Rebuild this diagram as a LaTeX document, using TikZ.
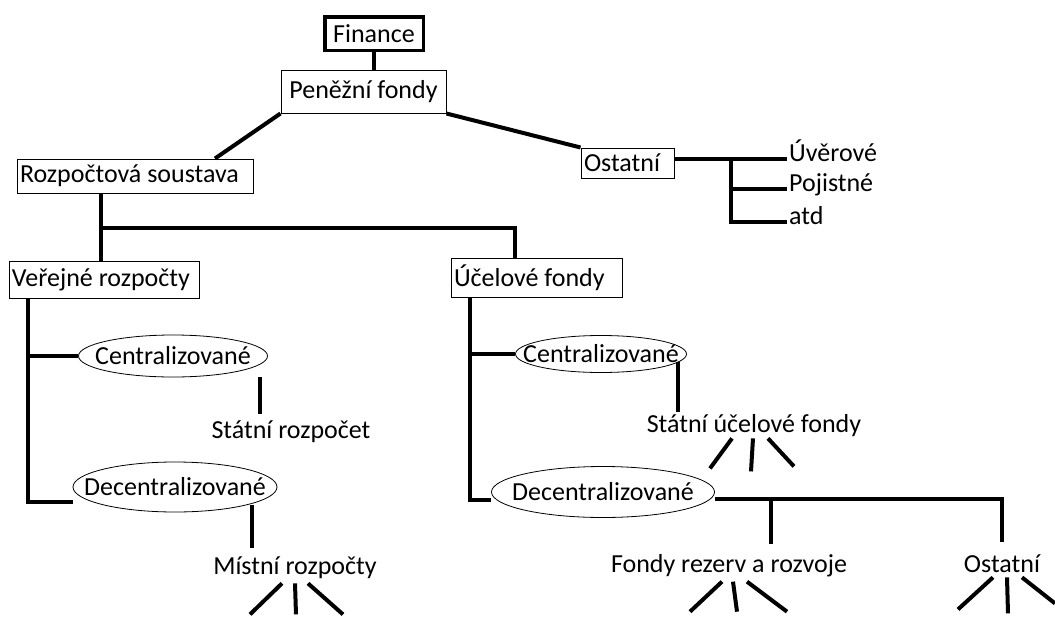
\documentclass[tikz,border=0pt]{standalone}
\usepackage{fontspec}
\setmainfont{Carlito}
\usetikzlibrary{shapes.geometric}

\begin{document}
\begin{tikzpicture}[x=1pt, y=-1pt,
        font=\fontsize{26}{30}\selectfont,
        conn/.style={line width=4pt},
        box/.style={draw, line width=1pt, inner xsep=3pt, inner ysep=0pt, align=flush left},
        oval/.style={draw, ellipse, line width=0.8pt, inner sep=0pt},
        leaf/.style={inner sep=2pt}]
        % Fix the frame
        \useasboundingbox (0,0) rectangle (1055,616);

        % Top of the tree
        \node[draw, line width=3.5pt, minimum width=98.5pt, minimum height=33.5pt, inner sep=0pt] (fin) at (374,33.5) {Finance};
        \node[draw, line width=1pt, minimum width=165pt, minimum height=43pt, inner sep=0pt] (pen) at (363.5,91.5) {Peněžní fondy};
        \node[box, text width=230pt, minimum height=34pt] (roz) at (135,176) {Rozpočtová soustava};
        \node[box, text width=87pt, minimum height=30pt] (ost) at (627.5,163) {Ostatní};

        % The list next to Ostatní
        \node[leaf, anchor=base west] (uver) at (787,161) {Úvěrové};
        \node[leaf, anchor=base west] (poj) at (787,191) {Pojistné};
        \node[leaf, anchor=base west] (atd) at (787,224) {atd};

        % Second level
        \node[box, text width=184pt, minimum height=37pt] (ver) at (104,279.5) {Veřejné rozpočty};
        \node[box, text width=165pt, minimum height=39pt] (uce) at (536.5,277.5) {Účelové fondy};

        % Ovals under Veřejné rozpočty
        \node[oval, minimum width=189pt, minimum height=42pt] (c1) at (173,356) {\makebox[0pt]{Centralizované}};
        \node[oval, minimum width=204pt, minimum height=50pt] (d1) at (175,487) {\makebox[0pt]{Decentralizované}};
        \node[leaf, anchor=base] (sr) at (291,438) {Státní rozpočet};
        \node[leaf, anchor=base] (mr) at (295,574) {Místní rozpočty};

        % Ovals under Účelové fondy
        \node[oval, minimum width=171pt, minimum height=37pt] (c2) at (601,354) {\makebox[0pt]{Centralizované}};
        \node[oval, minimum width=223pt, minimum height=51pt] (d2) at (603,492) {\makebox[0pt]{Decentralizované}};
        \node[leaf, anchor=base] (su) at (754,432) {Státní účelové fondy};
        \node[leaf, anchor=base] (fr) at (729,572) {Fondy rezerv a rozvoje};
        \node[leaf, anchor=base] (os2) at (1002,572) {Ostatní};

        % Finance and Peněžní fondy
        \draw[conn] (fin.south) -- (fin.south |- pen.north);
        \draw[conn] (pen.south west) -- ([xshift=80pt]roz.north);
        \draw[conn] (pen.south east) -- (ost.north west);

        % Ostatní and its list
        \coordinate (ostJ) at (731,153);
        \draw[conn] (ost.east |- uver.mid west) -- (uver.mid west);
        \draw[conn] (ostJ |- uver.mid west) -- (ostJ |- atd.mid west) -- (atd.mid west);
        \draw[conn] (ostJ |- poj.mid west) -- (poj.mid west);

        % Rozpočtová soustava splits
        \coordinate (rozJ) at (101,228);
        \coordinate (uceJ) at (515,228);
        \draw[conn] (roz.south -| rozJ) -- (ver.north -| rozJ);
        \draw[conn] (rozJ) -- (uceJ) -- (uce.north -| uceJ);

        % Veřejné rozpočty
        \coordinate (verB) at (28,502);
        \draw[conn] (ver.south -| verB) -- (verB) -- (verB -| d1.west);
        \draw[conn] (verB |- c1.west) -- (c1.west);
        \coordinate (srT) at (260,377);
        \draw[conn, shorten >=4pt] (srT) -- (srT |- sr.north);
        \coordinate (mrT) at (252,505);
        \draw[conn, shorten >=6pt] (mrT) -- (mrT |- mr.north);

        % Účelové fondy
        \coordinate (uceB) at (470,500);
        \draw[conn] (uce.south -| uceB) -- (uceB) -- (uceB -| d2.west);
        \draw[conn] (uceB |- c2.west) -- (c2.west);
        \coordinate (suT) at (678,362);
        \draw[conn] (suT) -- (suT |- su.north);
        \coordinate (frJ) at (771,499);
        \coordinate (osJ) at (1002,499);
        \draw[conn, shorten >=10pt] (d2.east |- frJ) -- (osJ) -- (osJ |- os2.north);
        \draw[conn, shorten >=8pt] (frJ) -- (frJ |- fr.north);

        % Three legs under the leaves
        \foreach \dx/\ex/\ey [count=\i] in {-13/-32/31, 0/1/31, 13/35/31}
            \draw[conn] ([xshift=\dx pt, yshift=-3pt]mr.south) -- ++(\ex,\ey) coordinate (mrleg\i);
        \foreach \dx/\ex/\ey [count=\i] in {-22/-22/30, -1/-2/33, 14/26/28}
            \draw[conn] ([xshift=\dx pt]su.south) -- ++(\ex,\ey) coordinate (suleg\i);
        \foreach \dx/\ex/\ey [count=\i] in {-7/-32/30, 4/4/30, 18/40/30}
            \draw[conn] ([xshift=\dx pt, yshift=-3pt]fr.south) -- ++(\ex,\ey) coordinate (frleg\i);
        \foreach \dx/\ex/\ey [count=\i] in {-9/-35/32, 5/1/36, 20/33/26}
            \draw[conn] ([xshift=\dx pt, yshift=-3pt]os2.south) -- ++(\ex,\ey) coordinate (osleg\i);
\end{tikzpicture}
\end{document}
